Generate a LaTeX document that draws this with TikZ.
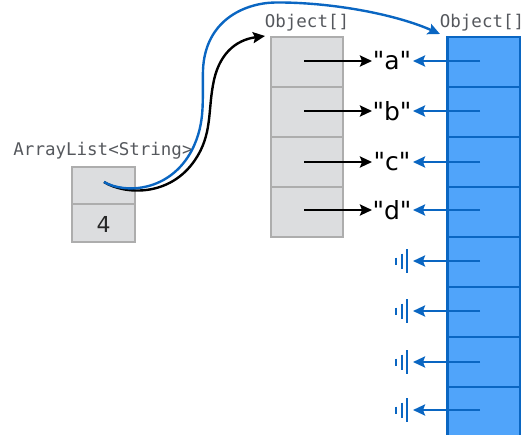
\documentclass[tikz,border=0pt]{standalone}
\usepackage{fontspec}
\setmainfont{DejaVu Sans}
\newfontfamily\strfont{DejaVu Sans}
\setmonofont{DejaVu Sans Mono}
\usetikzlibrary{arrows.meta}
\definecolor{cellgrey}{HTML}{DCDDDF}
\definecolor{edgegrey}{HTML}{ADADAD}
\definecolor{cellblue}{HTML}{50A4FA}
\definecolor{edgeblue}{HTML}{0A66C2}
\definecolor{labelgrey}{HTML}{55585D}
\tikzset{
  x=1pt,y=-1pt,
  greycell/.style={draw=edgegrey,fill=cellgrey,line width=2.8pt},
  bluecell/.style={draw=edgeblue,fill=cellblue,line width=2.8pt},
  typelabel/.style={font=\ttfamily\fontsize{17.5}{20}\selectfont,text=labelgrey,inner sep=0pt,anchor=base},
  strlabel/.style={font=\strfont\fontsize{25}{27}\selectfont,text=black,inner sep=0pt,anchor=base},
  blackref/.style={draw=black,line width=2.4pt,-{Stealth[length=12pt,width=11pt,inset=2pt]}},
  blueref/.style={draw=edgeblue,line width=2.4pt,-{Stealth[length=12pt,width=11pt,inset=2pt]}},
  groundbar/.style={draw=edgeblue,line width=2pt},
}
\begin{document}
\begin{tikzpicture}
\useasboundingbox (0,0) rectangle (525,434);
% ArrayList
\node[typelabel] (listlabel) at (103,155) {ArrayList<String>};
\draw[greycell] (72,167) rectangle (135,204);
\draw[greycell] (72,204) rectangle (135,242);
\node[font=\fontsize{22}{24}\selectfont,text=black!85,inner sep=0pt] (size) at (103.5,224) {4};
\coordinate (ref) at (104,182);
% grey array
\node[typelabel] (graylabel) at (307,27) {Object[]};
\foreach \a/\b in {37/87,87/137,137/187,187/237}
  \draw[greycell] (271,\a) rectangle (343,\b);
% blue array
\clip (0,0) rectangle (525,434);
\node[typelabel] (bluelabel) at (482,27) {Object[]};
\foreach \a/\b in {37/87,87/137,137/187,187/237,237/287,287/337,337/387,387/437}
  \draw[bluecell] (447.5,\a) rectangle (520,\b);
% strings
\node[strlabel] (a) at (392,69) {"a"};
\node[strlabel] (b) at (392,120) {"b"};
\node[strlabel] (c) at (392,170) {"c"};
\node[strlabel] (d) at (392,219) {"d"};
% black refs
\coordinate (g1) at (304,61);
\coordinate (g2) at (304,111);
\coordinate (g3) at (304,162);
\coordinate (g4) at (304,210);
\coordinate (ga) at (372,61);
\coordinate (gb) at (372,111);
\coordinate (gc) at (372,162);
\coordinate (gd) at (372,210);
\draw[blackref] (g1) -- (ga);
\draw[blackref] (g2) -- (gb);
\draw[blackref] (g3) -- (gc);
\draw[blackref] (g4) -- (gd);
% blue refs
\foreach \y/\n in {61/1,111/2,162/3,210/4,261/5,311/6,362/7,410/8}{
  \coordinate (bs\n) at (480,\y);
  \coordinate (be\n) at (413,\y);
  \draw[blueref] (bs\n) -- (be\n);
}
% null symbols
\foreach \y in {261,311,362,410}{
  \draw[groundbar] (396,\y-3.5) -- (396,\y+3.5);
  \draw[groundbar] (401.5,\y-7.5) -- (401.5,\y+7.5);
  \draw[groundbar] (407,\y-12) -- (407,\y+12);
}
% long curves
\coordinate (greytop) at (265,36);
\coordinate (bluetop) at (440,34);
\draw[blackref] (ref) .. controls (125,195) and (170,197) .. (195,160)
  .. controls (212,135) and (208,112) .. (213,85)
  .. controls (218,55) and (235,40) .. (greytop);
\draw[blueref] (ref) .. controls (125,194) and (170,192) .. (192,150)
  .. controls (206,122) and (202,100) .. (203,70)
  .. controls (205,20) and (245,3) .. (275,2.5)
  .. controls (330,2) and (395,14) .. (bluetop);
\end{tikzpicture}
\end{document}
